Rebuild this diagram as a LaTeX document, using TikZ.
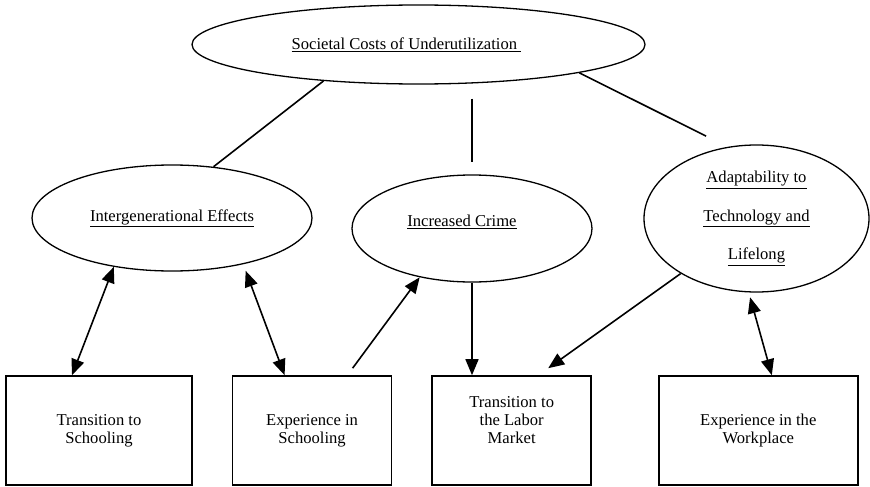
\documentclass[tikz,border=0pt]{standalone}
\usepackage{fontspec}
\setmainfont{Liberation Serif}
\usetikzlibrary{arrows.meta, positioning, shapes.geometric}
\newcommand{\lift}[2]{\raisebox{#1}[\height][\depth]{#2}}

\begin{document}
\begin{tikzpicture}[x=1pt, y=-1pt,
  every node/.style={font=\fontsize{16.6}{18}\selectfont},
  oval/.style={ellipse, draw, line width=1.3pt, inner sep=0pt, align=center},
  box/.style={rectangle, draw, line width=1.6pt, inner sep=0pt, align=center,
    minimum height=109pt},
  link/.style={line width=1.6pt},
  arr/.style={link, -{Triangle[length=16pt, width=13pt]}},
  dbl/.style={link, {Triangle[length=16pt, width=13pt]}-{Triangle[length=16pt, width=13pt]}}]
  \useasboundingbox (0,0) rectangle (870,487);
  \node[oval, minimum width=453pt, minimum height=79pt] (soc) at (418.5,44.5)
    {\hspace*{-24pt}\underline{Societal Costs of Underutilization\ }};
  \node[oval, minimum width=280pt, minimum height=106pt] (inter) at (172,218)
    {\underline{Intergenerational Effects}};
  \node[oval, minimum width=240pt, minimum height=107pt] (crime) at (472,228.5)
    {\lift{7pt}{\hspace*{-20pt}\underline{Increased Crime}}};
  \node[oval, minimum width=225pt, minimum height=147pt,
    font=\fontsize{16.6}{38.5}\selectfont] (adapt) at (756.5,218.5)
    {\underline{Adaptability to}\\\underline{Technology and}\\\underline{Lifelong}};
  \node[box, minimum width=186pt] (school) at (99,430.5) {Transition to\\Schooling};
  \node[box, minimum width=159pt, right=39pt of school] (exper) {Experience in\\Schooling};
  \node[box, minimum width=159pt, right=39pt of exper] (labor)
    {\lift{10pt}{Transition to}\\\lift{10pt}{the Labor}\\\lift{10pt}{Market}};
  \node[box, minimum width=199pt, right=66pt of labor] (work) {Experience in the\\Workplace};
  \draw[link] (soc.201) -- (inter.51);
  \draw[link, shorten <=14pt, shorten >=12pt] (soc.south -| crime.north) -- (crime.north);
  \draw[link, shorten >=24pt] (soc.350) -- (adapt.112);
  \draw[dbl] (inter.220) -- ([xshift=-27pt]school.north);
  \draw[dbl, shorten <=7pt] (inter.327) -- ([xshift=-27.5pt]exper.north);
  \draw[arr] ([xshift=40.5pt, yshift=7pt]exper.north) -- (crime.223);
  \draw[arr] (crime.south) -- (crime.south |- labor.north);
  \draw[arr] (adapt.216) -- ([xshift=36.5pt, yshift=7pt]labor.north);
  \draw[dbl, shorten <=5pt] (adapt.264) -- ([xshift=13.5pt]work.north);
\end{tikzpicture}
\end{document}
